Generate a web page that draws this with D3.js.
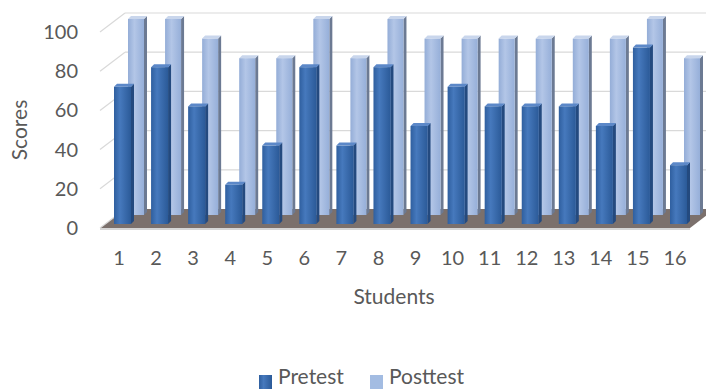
<!DOCTYPE html>
<html>
<head>
<meta charset="utf-8">
<script src="https://cdn.jsdelivr.net/npm/d3@7"></script>
<style>
  body { margin: 0; background: #fff; }
  text { font-family: Lato, "Open Sans", sans-serif; fill: #595959; }
</style>
</head>
<body>
<div id="chart"></div>
<script>
// chart values
var students = ['1','2','3','4','5','6','7','8','9','10','11','12','13','14','15','16'];
var pretest  = [70, 80, 60, 20, 40, 80, 40, 80, 50, 70, 60, 60, 60, 50, 90, 30];
var posttest = [100, 100, 90, 80, 80, 100, 80, 100, 90, 90, 90, 90, 90, 90, 100, 80];
var yTicks = [0, 20, 40, 60, 80, 100];
var seriesNames = ['Pretest', 'Posttest'];

var width = 706, height = 389;
var depthX = 25, depthY = -19; // oblique offset of back wall

var svg = d3.select('#chart').append('svg')
    .attr('width', width)
    .attr('height', height);

var defs = svg.append('defs');

function grad(id, stops) {
    var g = defs.append('linearGradient').attr('id', id)
        .attr('x1', '0%').attr('x2', '100%').attr('y1', '0%').attr('y2', '0%');
    stops.forEach(function(s){
        g.append('stop').attr('offset', s[0]).attr('stop-color', s[1]);
    });
}
grad('gPre', [['0%', '#2f5f9f'], ['35%', '#4679bd'], ['100%', '#2b5a98']]);
grad('gPost', [['0%', '#94add7'], ['40%', '#b3c6e7'], ['100%', '#96afd9']]);

// front plane scales
var x = d3.scalePoint().domain(students).range([119, 675]);
var y = d3.scaleLinear().domain([0, 100]).range([228, 32]);

// floor
var fl = 100, fr = 690;
svg.append('polygon')
    .attr('points', [[fl, y(0)], [fr, y(0)], [fr + depthX, y(0) + depthY], [fl + depthX, y(0) + depthY]].join(' '))
    .attr('fill', '#7b706c');
svg.append('line')
    .attr('x1', fl).attr('x2', fr).attr('y1', y(0) + 1).attr('y2', y(0) + 1)
    .attr('stroke', '#d6d6d6').attr('stroke-width', 2);

// back wall gridlines + left wall diagonals
var grid = svg.append('g');
yTicks.forEach(function(t){
    if (t > 0) {
        grid.append('line')
            .attr('x1', fl + depthX).attr('x2', width)
            .attr('y1', y(t) + depthY).attr('y2', y(t) + depthY)
            .attr('stroke', '#d9d9d9').attr('stroke-width', 1.2);
    }
    grid.append('line')
        .attr('x1', fl).attr('x2', fl + depthX)
        .attr('y1', y(t)).attr('y2', y(t) + depthY)
        .attr('stroke', '#d9d9d9').attr('stroke-width', 1.2);
});

// 3d bar helper
function bar3d(g, x0, w, yTop, yBase, fill, side, top) {
    var d = 3;
    g.append('polygon')
        .attr('points', [[x0 + w, yTop], [x0 + w + d, yTop - d], [x0 + w + d, yBase - d], [x0 + w, yBase]].join(' '))
        .attr('fill', side);
    g.append('polygon')
        .attr('points', [[x0, yTop], [x0 + d, yTop - d], [x0 + w + d, yTop - d], [x0 + w, yTop]].join(' '))
        .attr('fill', top);
    g.append('rect')
        .attr('x', x0).attr('y', yTop)
        .attr('width', w).attr('height', yBase - yTop)
        .attr('fill', fill);
}

// posttest (further back)
var postG = svg.append('g');
posttest.forEach(function(v, i){
    var yb = y(0) - 13;
    var yt = y(v) - 13;
    bar3d(postG, x(students[i]) + 9, 16, yt, yb, 'url(#gPost)', '#6c7a93', '#c9d6ec');
});

// pretest (front)
var preG = svg.append('g');
pretest.forEach(function(v, i){
    var yb = y(0) - 4;
    var yt = y(v) - 4;
    bar3d(preG, x(students[i]) - 5, 17, yt, yb, 'url(#gPre)', '#244a7f', '#5c88c8');
});

// y axis labels
svg.append('g').selectAll('text')
    .data(yTicks).enter().append('text')
    .attr('x', 78)
    .attr('y', function(d){ return y(d); })
    .attr('dy', '0.35em')
    .attr('text-anchor', 'end')
    .attr('font-size', 20)
    .text(function(d){ return d; });

// x axis labels
svg.append('g').selectAll('text')
    .data(students).enter().append('text')
    .attr('x', function(d){ return x(d); })
    .attr('y', 265)
    .attr('text-anchor', 'middle')
    .attr('font-size', 20)
    .text(function(d){ return d; });

// axis titles
svg.append('text')
    .attr('transform', 'translate(27,130) rotate(-90)')
    .attr('text-anchor', 'middle')
    .attr('font-size', 21)
    .text('Scores');

svg.append('text')
    .attr('x', 394).attr('y', 304)
    .attr('text-anchor', 'middle')
    .attr('font-size', 21)
    .text('Students');

// legend
var legend = svg.append('g');
var legX = [259, 370];
var legFill = ['url(#gPre)', '#a3bce2'];
seriesNames.forEach(function(name, i){
    legend.append('rect')
        .attr('x', legX[i]).attr('y', 375)
        .attr('width', 13).attr('height', 14)
        .attr('fill', legFill[i]);
    legend.append('text')
        .attr('x', legX[i] + 19).attr('y', 384)
        .attr('font-size', 21)
        .text(name);
});
</script>
</body>
</html>
